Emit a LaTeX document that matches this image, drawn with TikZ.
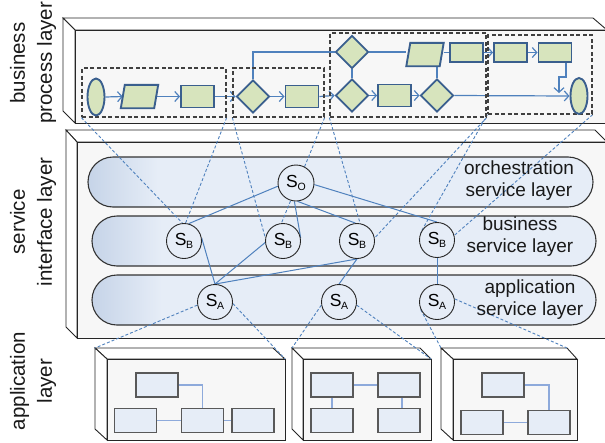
\documentclass[tikz,border=0pt]{standalone}
\usepackage{fontspec}
\setmainfont{Liberation Sans}
\usetikzlibrary{shapes.geometric,arrows.meta,calc}
\definecolor{shfill}{HTML}{D7E4BD}
\definecolor{shdraw}{HTML}{3A5F8E}
\definecolor{conn}{HTML}{4F81BD}
\definecolor{band}{HTML}{E6EDF7}
\definecolor{bandl}{HTML}{C6D4E8}
\definecolor{face}{HTML}{F7F7F7}
\definecolor{grpc}{HTML}{404040}
\definecolor{appc}{HTML}{8EAADB}
\pgfdeclarelayer{bg}\pgfdeclarelayer{mid}\pgfsetlayers{bg,mid,main}
\newcommand{\svc}[1]{{\fontsize{17.5}{17.5}\selectfont S}\kern-0.3pt\raisebox{-2.5pt}{\fontsize{10.5}{10.5}\selectfont #1}}
% back-top-left x,y ; back-top-right x ; front-top-left x,y ; front-right x ; front-bottom y ; back-bottom y
\newcommand{\drawslab}[8]{%
  \filldraw[boxl,fill=white] (#1,#2) -- (#3,#2) -- (#6,#5) -- (#4,#5) -- cycle;
  \filldraw[boxl,fill=white] (#1,#2) -- (#4,#5) -- (#4,#7) -- (#1,#8) -- cycle;
  \filldraw[boxl,fill=face] (#4,#5) rectangle (#6,#7);}
\newcommand{\drawband}[4]{%
  \begin{scope}
    \clip[rounded corners=25pt] (#1,#2) rectangle (#3,#4);
    \fill[band] (#1,#2) rectangle (#3,#4);
    \shade[left color=bandl, right color=band] (#1,#2) rectangle ({#1+70},#4);
  \end{scope}
  \draw[draw=black!80, line width=1.1pt, rounded corners=25pt] (#1,#2) rectangle (#3,#4);}
\newcommand{\parallelo}[1]{%
  \filldraw[proc] (#1.south west) -- ([xshift=-4pt]#1.south east) -- (#1.north east) -- ([xshift=4pt]#1.north west) -- cycle;}
\begin{document}
\begin{tikzpicture}[x=1pt,y=-1pt,
  boxl/.style={draw=black!85, line width=0.9pt},
  proc/.style={draw=shdraw, fill=shfill, line width=1.9pt, inner sep=0pt},
  prect/.style={proc, rectangle, minimum width=33pt, minimum height=22pt},
  pdia/.style={proc, diamond, minimum width=33pt, minimum height=33pt},
  pell/.style={proc, ellipse, minimum width=17pt, minimum height=37pt},
  ppar/.style={rectangle, inner sep=0pt, minimum width=37pt, minimum height=23pt},
  flow/.style={draw=conn, line width=1.2pt},
  flowa/.style={flow, -{Straight Barb[length=4.5pt,width=10pt]}},
  grp/.style={draw=grpc, dash pattern=on 4pt off 2.5pt, line width=1.3pt, rectangle, inner sep=0pt},
  dlink/.style={draw=conn, line width=0.9pt, dash pattern=on 3pt off 2pt},
  slink/.style={draw=conn, line width=1pt},
  svcn/.style={circle, draw=black!85, line width=0.9pt, fill=band, minimum size=35pt, inner sep=0pt},
  appr/.style={draw=black!65, line width=1.5pt, fill=band, minimum width=42pt, minimum height=24pt, inner sep=0pt},
  appl/.style={draw=appc, line width=1.5pt},
  lbl/.style={font=\fontsize{19}{22}\selectfont, align=center, text=black!90, inner sep=0pt},
  side/.style={font=\fontsize{20.5}{27}\selectfont, align=center, text=black!90, inner sep=0pt, rotate=90}]
\useasboundingbox (0,0) rectangle (605,442);

\begin{pgfonlayer}{bg}
\drawslab{63}{18}{593}{75}{30}{607}{123}{111}
\drawslab{66}{130}{595}{77}{142}{607}{338}{327}
\drawslab{95}{348}{273}{107}{359}{285}{440}{429}
\drawslab{292}{348}{420}{303}{359}{431}{440}{429}
\drawslab{441}{348}{567}{453}{359}{577}{440}{429}
\drawband{88}{157}{593}{207}
\drawband{92}{216}{596}{266}
\drawband{92}{275}{596}{325}
\end{pgfonlayer}

% side labels
\node[side] (lb1) at (33,63) {business\\process layer};
\node[side] (lb2) at (33,222) {service\\interface layer};
\node[side] (lb3) at (33,381) {application\\layer};

% band labels
\node[lbl] (torch) at (519,181) {orchestration\\service layer};
\node[lbl] (tbus) at (520,237) {business\\service layer};
\node[lbl] (tapp) at (530,300) {application\\service layer};

% groups
\node[grp, minimum width=144pt, minimum height=49pt] (g1) at (154,92.5) {};
\node[grp, minimum width=91pt, minimum height=49pt] (g2) at (278.5,92.5) {};
\node[grp, minimum width=156pt, minimum height=84pt] (g3) at (408,75) {};
\node[grp, minimum width=104pt, minimum height=79pt] (g4) at (540,74.5) {};

% process shapes
\node[pell] (e1) at (96,97) {};
\node[ppar] (p1) at (139.5,96.5) {};
\parallelo{p1}
\node[prect] (r1) at (197.5,96.5) {};
\node[pdia] (d1) at (253,96.5) {};
\node[prect] (r2) at (302,96.5) {};
\node[pdia] (d2) at (352,52) {};
\node[pdia] (d3) at (352,95.5) {};
\node[prect] (r3) at (394.5,95.5) {};
\node[pdia] (d4) at (437,95.5) {};
\node[ppar] (p2) at (425,54.5) {};
\parallelo{p2}
\node[prect, minimum height=19pt] (r4) at (466.5,52.5) {};
\node[prect, minimum height=19pt] (r5) at (510.5,52.5) {};
\node[prect, minimum height=19pt] (r6) at (555,52.5) {};
\node[pell, minimum height=36pt] (e2) at (579,96) {};
\coordinate (k1) at (566,77);
\coordinate (k2) at (559,77);
\coordinate (k3) at (559,93);

% service nodes
\node[svcn, minimum size=36pt] (so) at (296,183) {\svc{O}};
\node[svcn] (sb1) at (184,241) {\svc{B}};
\node[svcn] (sb2) at (283,241) {\svc{B}};
\node[svcn] (sb3) at (357,241) {\svc{B}};
\node[svcn] (sb4) at (437,240) {\svc{B}};
\node[svcn] (sa1) at (215,302) {\svc{A}};
\node[svcn] (sa2) at (339,302) {\svc{A}};
\node[svcn] (sa3) at (437,302) {\svc{A}};

% application boxes
\coordinate (b1tl) at (95,348);
\coordinate (b1tr) at (285,359);
\coordinate (b2tl) at (292,348);
\coordinate (b2tr) at (431,359);
\coordinate (b3tl) at (441,348);
\coordinate (b3tr) at (567,348);
\node[appr] (ba) at (157,385) {};
\node[appr] (bb) at (135.5,420.5) {};
\node[appr] (bc) at (202.5,420.5) {};
\node[appr] (bd) at (253,420.5) {};
\node[appr] (ca) at (332,385) {};
\node[appr] (cb) at (399,385) {};
\node[appr] (cc) at (332,420.5) {};
\node[appr] (cd) at (399,420.5) {};
\node[appr] (da) at (503,385) {};
\node[appr] (db) at (482,422.5) {};
\node[appr] (dc) at (549,422.5) {};

\begin{pgfonlayer}{mid}
% process flow
\draw[flowa] (e1.east) -- ([xshift=2pt]p1.west);
\draw[flowa] ([xshift=-2pt]p1.east) -- (r1.west);
\draw[flowa] (r1.east) -- (d1.west);
\draw[flowa] (d1.east) -- (r2.west);
\draw[flowa] (r2.east) -- (d3.west);
\draw[flow] (d1.north) |- (d2.west);
\draw[flow] (d2.east) -- (d2.east -| p2.west);
\draw[flow] (d2.south) -- (d3.north);
\draw[flowa] (d3.east) -- (r3.west);
\draw[flowa] (r3.east) -- (d4.west);
\draw[flow] (d4.north) -- (d4.north |- p2.south);
\draw[flow] (r4.west -| p2.east) -- (r4.west);
\draw[flowa] (r4.east) -- (r5.west);
\draw[flowa] (r5.east) -- (r6.west);
\draw[flowa] (r6.south -| k1) -- (k1) -- (k2) -- (k3);
\draw[flowa] (d4.east) -- (e2.west);

% dashed mappings business -> service
\draw[dlink] (g1.south west) -- (sb1.95);
\draw[dlink] (g1.south east) -- (sb1.85);
\draw[dlink] (g2.south west) -- (sb2.170);
\draw[dlink] (g2.south east) -- (sb2.95);
\draw[dlink] (g3.south west) -- (sb3.80);
\draw[dlink] (g3.south east) -- (sb3.10);
\draw[dlink] (g4.south west) -- (sb4.155);
\draw[dlink] (g4.south east) -- (sb4.15);

% dashed mappings service -> application
\draw[dlink] (sa1.190) -- (b1tl);
\draw[dlink] (sa1.-5) -- (b1tr);
\draw[dlink] (sa2.190) -- (b2tl);
\draw[dlink] (sa2.-10) -- (b2tr);
\draw[dlink] (sa3.205) -- (b3tl);
\draw[dlink] (sa3.10) -- (b3tr);

% service composition
\draw[slink] (so.190) -- (sb1.75);
\draw[slink] (so.265) -- (sb2.10);
\draw[slink] (so.275) -- (sb3.95);
\draw[slink] (so.-5) -- (sb4.north);
\draw[slink] (sb1.10) -- (sa1.north);
\draw[slink] (sb2.185) -- (sa1.north);
\draw[slink] (sa1.north) -- (sb3.south);
\draw[slink] (sb3.south) -- (sa2.north);
\draw[slink] (sb4.south) -- (sa3.north);

% application internals
\draw[appl] (ba.east) -| (bc.north);
\draw[appl] (bb.east) -- (bc.west);
\draw[appl] (bc.east) -- (bd.west);
\draw[appl] (ca.east) -- (cb.west);
\draw[appl] (ca.south) -- (cc.north);
\draw[appl] ([xshift=3pt]cb.south) -- ([xshift=3pt]cd.north);
\draw[appl] (da.east) -| (dc.north);
\draw[appl] (db.east) -- (dc.west);
\end{pgfonlayer}
\end{tikzpicture}
\end{document}
